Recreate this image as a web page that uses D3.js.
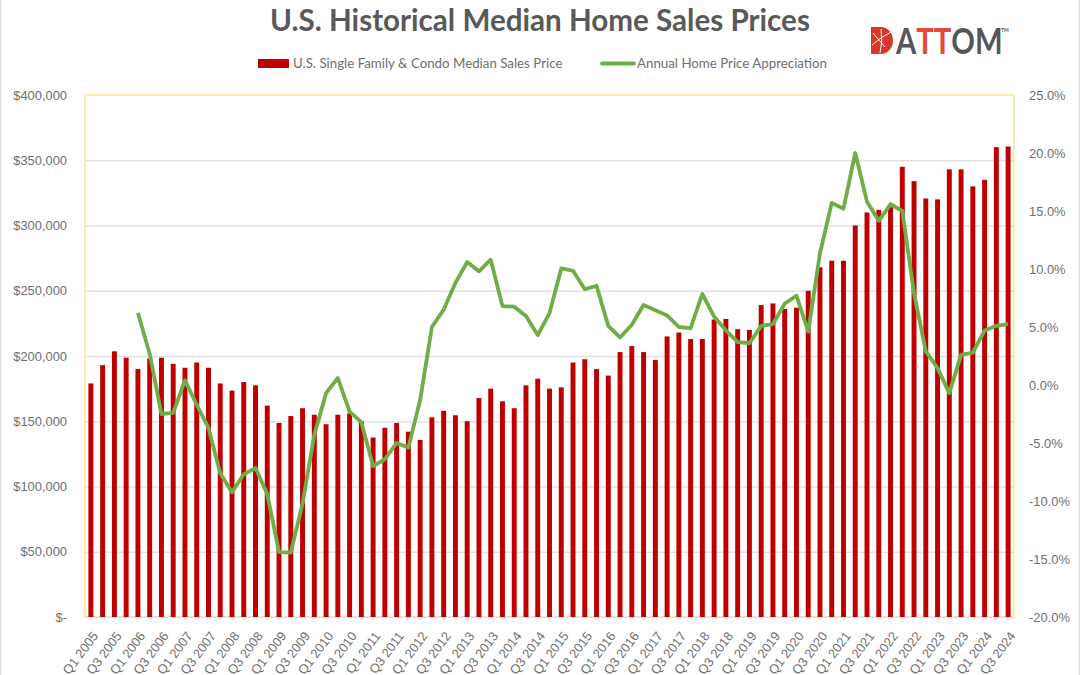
<!DOCTYPE html>
<html>
<head>
<meta charset="utf-8">
<script src="https://cdn.jsdelivr.net/npm/d3@7"></script>
<style>
  html, body { margin: 0; padding: 0; background: #fff; }
  svg { display: block; font-family: Lato, sans-serif; }
  .axis text { fill: #6f6f6f; font-size: 12.9px; }
  .axis path, .axis line { stroke: none; }
  .grid line { stroke: #e2e2e2; stroke-width: 1.5; }
  .grid path { stroke: none; }
  .grid text { display: none; }
</style>
</head>
<body>
<svg id="chart" width="1080" height="675"></svg>
<script>
const years = d3.range(2005, 2025);
const quarters = years.flatMap((y) => [1, 2, 3, 4].map((q) => `Q${q} ${y}`)).slice(0, 79);

const medianPrice = [
  179, 193, 203.6, 198.7, 190, 198, 198.7, 194, 191, 195, 191, 179,
  173.5, 180, 177.5, 162, 148.7, 154, 160, 155, 147.7, 155, 156, 150,
  137.5, 145, 148.7, 142, 135.7, 153, 158, 154.6, 150, 167.8, 175, 165.3,
  160, 177.5, 182.6, 175, 176, 195, 197.5, 190, 185, 203, 207.6, 203,
  197, 215, 218, 213, 213, 228, 228.4, 220.5, 220, 239, 240.3, 236,
  237, 250, 268, 273, 273, 300, 310, 312, 314, 345, 334, 320.7,
  320, 343, 343, 330, 335, 360, 360.5,
].map((d) => d * 1000);

const appreciation = [
  null, null, null, null,
  6.2, 2.7, -2.5, -2.4, 0.4, -1.7, -3.7, -7.6,
  -9.25, -7.7, -7.15, -9.4, -14.4, -14.45, -10.2, -4.3, -0.7, 0.6, -2.3, -3.2,
  -7.0, -6.4, -5.0, -5.4, -1.3, 5.0, 6.5, 8.8, 10.6, 9.8, 10.8, 6.8,
  6.75, 5.95, 4.3, 6.2, 10.05, 9.85, 8.25, 8.55, 5.1, 4.1, 5.2, 6.9,
  6.45, 6.0, 5.0, 4.9, 7.85, 5.9, 4.7, 3.7, 3.6, 5.1, 5.25, 7.0,
  7.7, 4.6, 11.35, 15.7, 15.2, 20.0, 15.8, 14.15, 15.6, 15.0, 7.9, 2.9,
  1.45, -0.7, 2.6, 2.8, 4.7, 5.1, 5.25,
];

const priceTicks = [0, 50000, 100000, 150000, 200000, 250000, 300000, 350000, 400000];
const pctTicks = [-20, -15, -10, -5, 0, 5, 10, 15, 20, 25];
const xTickLabels = quarters.filter((d, i) => i % 2 === 0);

const titleText = 'U.S. Historical Median Home Sales Prices';
const barLegend = 'U.S. Single Family & Condo Median Sales Price';
const lineLegend = 'Annual Home Price Appreciation';

const margin = { top: 95, right: 66, bottom: 58, left: 85 };
const width = 1080, height = 675;
const chartWidth = width - margin.left - margin.right;
const chartHeight = height - margin.top - margin.bottom;

const svg = d3.select('#chart');
const g = svg.append('g').attr('transform', `translate(${margin.left}, ${margin.top})`);

const xScale = d3.scaleBand().domain(quarters).range([0, chartWidth]).paddingInner(0.58).paddingOuter(0.29);
const yScale = d3.scaleLinear().domain([0, 400000]).range([chartHeight, 0]);
const pctScale = d3.scaleLinear().domain([-20, 25]).range([chartHeight, 0]);

// page edges
svg.append('line').attr('x1', 0.5).attr('x2', 0.5).attr('y1', 0).attr('y2', height).attr('stroke', '#dcdcdc').attr('stroke-width', 1.5);
svg.append('line').attr('x1', width - 0.5).attr('x2', width - 0.5).attr('y1', 0).attr('y2', height).attr('stroke', '#dcdcdc').attr('stroke-width', 1.5);

g.append('g')
  .attr('class', 'grid')
  .call(d3.axisLeft(yScale).tickValues(priceTicks.slice(1, -1)).tickSize(-chartWidth));

// plot border is pale yellow on three sides, the baseline is grey
g.append('path')
  .attr('d', d3.line()([[0, chartHeight], [0, 0], [chartWidth, 0], [chartWidth, chartHeight]]))
  .attr('fill', 'none')
  .attr('stroke', '#ffe699')
  .attr('stroke-width', 1.5);
g.append('line')
  .attr('x1', 0).attr('x2', chartWidth)
  .attr('y1', chartHeight).attr('y2', chartHeight)
  .attr('stroke', '#d9d9d9').attr('stroke-width', 1.5);

g.selectAll('.bar')
  .data(quarters)
  .join('rect')
  .attr('class', 'bar')
  .attr('x', (d) => xScale(d))
  .attr('width', xScale.bandwidth())
  .attr('y', (d, i) => yScale(medianPrice[i]))
  .attr('height', (d, i) => chartHeight - yScale(medianPrice[i]))
  .attr('fill', '#c00000');

const line = d3.line()
  .defined((d) => d !== null)
  .x((d, i) => xScale(quarters[i]) + xScale.bandwidth() / 2)
  .y((d) => pctScale(d));

g.append('path')
  .datum(appreciation)
  .attr('d', line)
  .attr('fill', 'none')
  .attr('stroke', '#70ad47')
  .attr('stroke-width', 3.8)
  .attr('stroke-linejoin', 'round');

g.append('g')
  .attr('class', 'axis')
  .call(d3.axisLeft(yScale).tickValues(priceTicks).tickSize(0).tickPadding(18)
    .tickFormat((d) => (d === 0 ? '$-' : d3.format('$,')(d))));

g.append('g')
  .attr('class', 'axis')
  .attr('transform', `translate(${chartWidth}, 0)`)
  .call(d3.axisRight(pctScale).tickValues(pctTicks).tickSize(0).tickPadding(15)
    .tickFormat((d) => d.toFixed(1) + '%'));

g.append('g')
  .attr('class', 'axis')
  .attr('transform', `translate(0, ${chartHeight})`)
  .call(d3.axisBottom(xScale).tickValues(xTickLabels).tickSize(0).tickPadding(0))
  .selectAll('text')
  .attr('text-anchor', 'end')
  .attr('dx', 0)
  .attr('dy', 0)
  .attr('transform', 'translate(8, 19) rotate(-53)');

// title
svg.append('text')
  .attr('x', 540).attr('y', 31)
  .attr('text-anchor', 'middle')
  .attr('font-size', 29.6)
  .attr('font-weight', 700)
  .attr('fill', '#595959')
  .text(titleText);

// legend
svg.append('rect').attr('x', 258).attr('y', 59).attr('width', 31).attr('height', 9).attr('fill', '#c00000');
svg.append('text').attr('x', 293).attr('y', 68).attr('font-size', 13.3).attr('fill', '#6f6f6f').text(barLegend);
svg.append('line').attr('x1', 602).attr('x2', 634).attr('y1', 63.5).attr('y2', 63.5)
  .attr('stroke', '#70ad47').attr('stroke-width', 3.8).attr('stroke-linecap', 'round');
svg.append('text').attr('x', 637).attr('y', 68).attr('font-size', 13.3).attr('fill', '#6f6f6f').text(lineLegend);

// logo
const logo = svg.append('g').attr('transform', 'translate(871, 27)');
logo.append('path').attr('d', 'M0,0 H10 A12,13.5 0 0 1 10,27 H0 Z').attr('fill', '#d9372c');
logo.append('path').attr('d', 'M2,6 L14,20 M1,18 Q10,10 20,5 M10,2 Q12,14 9,26').attr('fill', 'none').attr('stroke', '#fff').attr('stroke-width', 1);
const logoText = svg.append('text')
  .attr('transform', 'translate(896, 53.5) scale(0.79, 1)')
  .attr('font-size', 37).attr('font-weight', 700)
  .attr('fill', '#55565a');
logoText.append('tspan').text('A');
logoText.append('tspan').attr('fill', '#e8473a').text('TT');
logoText.append('tspan').text('OM');
svg.append('text').attr('x', 1001).attr('y', 32).attr('font-size', 5).attr('font-weight', 700).attr('fill', '#55565a').text('TM');
</script>
</body>
</html>
